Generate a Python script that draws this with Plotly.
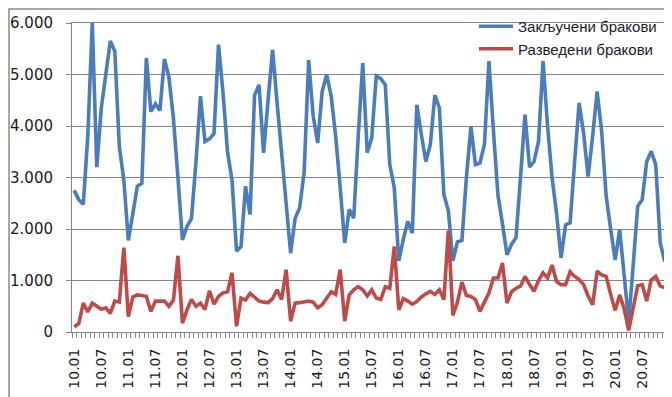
import plotly.graph_objects as go

# Monthly data, 2010.01 - 2020.12
months = [f"{y % 100:02d}.{m:02d}" for y in range(2010, 2021) for m in range(1, 13)]

married = [
    2750, 2570, 2480, 3800, 6000, 3200, 4350, 5000, 5650, 5450, 3600, 2950,   # 2010
    1780, 2300, 2830, 2890, 5320, 4280, 4430, 4300, 5300, 4950, 4150, 3000,   # 2011
    1790, 2050, 2200, 3300, 4580, 3700, 3750, 3850, 5580, 4650, 3500, 2950,   # 2012
    1570, 1660, 2830, 2280, 4600, 4800, 3480, 4500, 5480, 4450, 3500, 2600,   # 2013
    1530, 2210, 2410, 3100, 5280, 4200, 3670, 4670, 5000, 4580, 3800, 2800,   # 2014
    1730, 2380, 2210, 3800, 5220, 3480, 3770, 4970, 4920, 4800, 3250, 2800,   # 2015
    1380, 1800, 2150, 1920, 4410, 3830, 3310, 3640, 4600, 4350, 2670, 2350,   # 2016
    1380, 1750, 1780, 3000, 3990, 3250, 3280, 3640, 5260, 3900, 2650, 2100,   # 2017
    1500, 1700, 1830, 3000, 4220, 3200, 3310, 3700, 5260, 4000, 3000, 2300,   # 2018
    1440, 2080, 2120, 3300, 4450, 3860, 3020, 3800, 4670, 3900, 2640, 2000,   # 2019
    1400, 1990, 1100, 200, 1300, 2440, 2570, 3310, 3510, 3250, 1730, 1370,    # 2020
]

divorced = [
    100, 160, 560, 390, 560, 510, 440, 470, 360, 600, 580, 1640,              # 2010
    300, 680, 720, 710, 690, 400, 600, 600, 600, 500, 620, 1480,              # 2011
    170, 430, 630, 500, 560, 440, 800, 540, 690, 760, 780, 1150,              # 2012
    110, 660, 620, 750, 680, 600, 580, 570, 650, 820, 630, 1210,              # 2013
    210, 560, 570, 590, 600, 580, 470, 530, 650, 780, 730, 1210,              # 2014
    210, 720, 820, 880, 820, 700, 820, 660, 630, 880, 850, 1660,              # 2015
    430, 650, 600, 540, 590, 680, 740, 790, 730, 820, 630, 1970,              # 2016
    320, 580, 970, 710, 690, 630, 400, 600, 760, 1050, 1050, 1340,            # 2017
    560, 780, 850, 890, 1080, 920, 790, 1000, 1150, 1050, 1300, 980,          # 2018
    920, 920, 1170, 1080, 1020, 920, 700, 530, 1180, 1110, 1080, 730,         # 2019
    420, 720, 450, 30, 500, 900, 920, 600, 1010, 1080, 890, 860,              # 2020
]

series_names = ["Закључени бракови", "Разведени бракови"]
series_colors = ["#4A7EBB", "#BE4B48"]

y_ticks = [0, 1000, 2000, 3000, 4000, 5000, 6000]

idx = list(range(len(months)))
label_idx = [i for i in idx if months[i].endswith(".01") or months[i].endswith(".07")]
label_txt = [months[i] for i in label_idx]
boundaries = [i - 0.5 for i in range(len(months) + 1)]

fig = go.Figure()
for name, vals, col, grp in zip(series_names, [married, divorced], series_colors, ["a", "b"]):
    fig.add_trace(go.Scatter(
        x=idx, y=vals, mode="lines", name=name, legendgroup=grp,
        line=dict(color=col, width=3.6),
    ))

W, H = 672, 397
L, R, T, B = 64, 13, 15, 73
pw, ph = W - L - R, H - T - B

fig.update_layout(
    width=W, height=H,
    margin=dict(l=L, r=R, t=T, b=B, pad=0, autoexpand=False),
    paper_bgcolor="white", plot_bgcolor="white",
    separators=",.",
    showlegend=True,
    legend=dict(
        x=(466 - L) / pw, xanchor="left",
        y=(H - B - 2) / ph, yanchor="top",
        bgcolor="rgba(0,0,0,0)",
        font=dict(family="Liberation Sans, Arial, sans-serif", size=15, color="#1b1b2b"),
        tracegroupgap=0, itemwidth=34,
    ),
    xaxis=dict(
        range=[-0.5, len(months) - 0.5],
        automargin=False,
        tickmode="array", tickvals=label_idx, ticktext=label_txt,
        tickangle=-90,
        ticks="outside", ticklen=10, tickcolor="rgba(0,0,0,0)",
        tickfont=dict(family="DejaVu Sans, sans-serif", size=14, color="#1a1a1a"),
        showgrid=False, zeroline=False,
        showline=True, linecolor="#868686", linewidth=1, mirror=True,
        minor=dict(tickmode="array", tickvals=boundaries, ticks="outside",
                   ticklen=5, tickcolor="#868686", showgrid=False),
    ),
    yaxis=dict(
        range=[0, 6000],
        automargin=False,
        tickmode="array", tickvals=y_ticks,
        tickformat=",d",
        ticks="outside", ticklen=5, tickcolor="#868686",
        ticklabelstandoff=10,
        tickfont=dict(family="DejaVu Sans, sans-serif", size=15, color="#1a1a1a"),
        showgrid=True, gridcolor="#868686", gridwidth=1,
        zeroline=False,
        showline=True, linecolor="#868686", linewidth=1, mirror=True,
    ),
    shapes=[dict(
        type="rect", xref="paper", yref="paper",
        x0=(1 - L) / pw, x1=(669 - L) / pw,
        y0=(H - B - 393) / ph, y1=(H - B - 1) / ph,
        line=dict(color="#8a8a8a", width=1.5), fillcolor="rgba(0,0,0,0)", layer="below",
    )],
)

fig.write_html("out.html")
